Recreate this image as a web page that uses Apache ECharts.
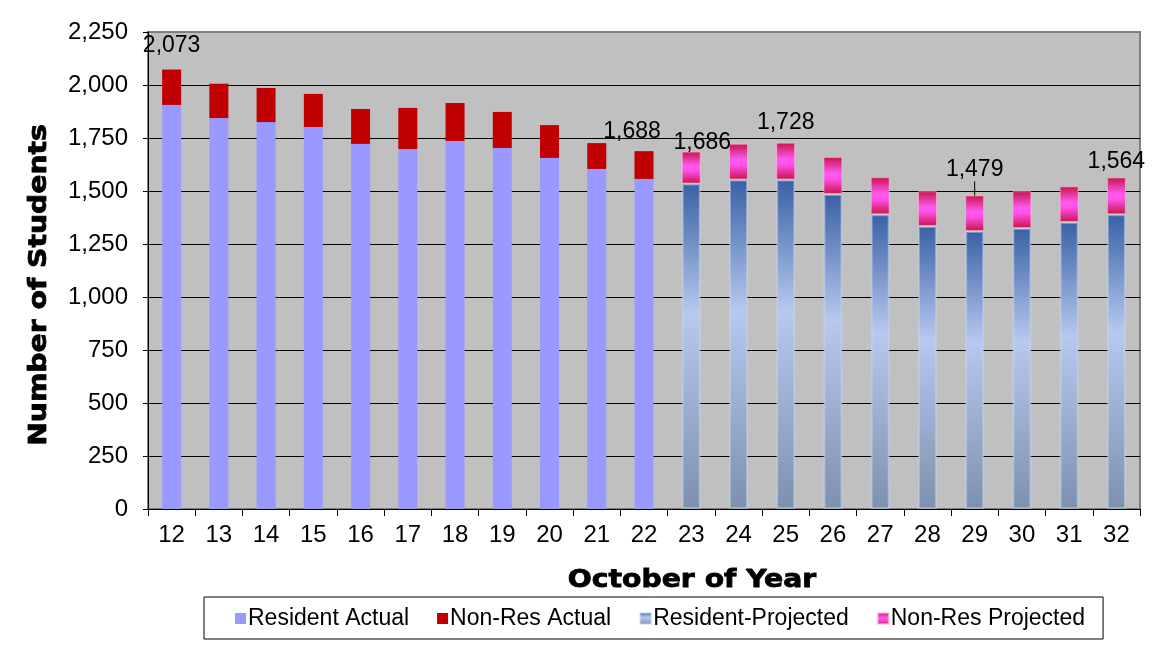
<!DOCTYPE html>
<html>
<head>
<meta charset="utf-8">
<script src="https://cdn.jsdelivr.net/npm/echarts@6/dist/echarts.min.js"></script>
<style>
  html, body { margin: 0; padding: 0; background: #fff; }
  #main { width: 1170px; height: 660px; }
</style>
</head>
<body>
<div id="main"></div>
<script>
// 数据
var years = ["12", "13", "14", "15", "16", "17", "18", "19", "20", "21", "22",
             "23", "24", "25", "26", "27", "28", "29", "30", "31", "32"];
var residentActual = [1906, 1844, 1825, 1802, 1722, 1698, 1736, 1703, 1656, 1604, 1557,
                      "-", "-", "-", "-", "-", "-", "-", "-", "-", "-"];
var nonResActual = [167, 162, 161, 156, 165, 194, 179, 170, 155, 122, 131,
                    "-", "-", "-", "-", "-", "-", "-", "-", "-", "-"];
var residentProjected = ["-", "-", "-", "-", "-", "-", "-", "-", "-", "-", "-",
                         1535, 1554, 1554, 1486, 1390, 1335, 1311, 1325, 1354, 1390];
var nonResProjected = ["-", "-", "-", "-", "-", "-", "-", "-", "-", "-", "-",
                       151, 169, 174, 175, 175, 164, 168, 174, 168, 174];
var yTicks = [0, 250, 500, 750, 1000, 1250, 1500, 1750, 2000, 2250];

// 显示合计标签的柱子及其偏移 [dx, dy]
var labelShift = { 0: [0, -7], 10: [-12, -3], 11: [11, 8], 13: [0, -4], 17: [0, -9], 20: [0, 1] };

function total(i) {
  var s = 0;
  [residentActual[i], nonResActual[i], residentProjected[i], nonResProjected[i]].forEach(function (v) {
    if (v !== "-") s += v;
  });
  return s;
}

function withLabels(values) {
  return values.map(function (v, i) {
    if (v === "-" || !labelShift[i]) return v;
    var item = {
      value: v,
      label: {
        show: true,
        position: "top",
        formatter: function () { return total(i).toLocaleString("en-US"); }
      }
    };
    if (i === 17) item.labelLine = { show: true, lineStyle: { color: "#000", width: 1 } };
    return item;
  });
}

function shiftLabel(params) {
  var s = labelShift[params.dataIndex];
  return s ? { dx: s[0], dy: s[1] } : {};
}

var labelStyle = { color: "#000", fontSize: 23, fontFamily: "Liberation Sans, Arial" };

var myChart = echarts.init(document.getElementById("main"));

var option = {
  animation: false,
  backgroundColor: "#fff",
  grid: {
    left: 148,
    right: 30,
    top: 32,
    bottom: 151,
    show: true,
    backgroundColor: "#c0c0c0",
    borderColor: "#808080",
    borderWidth: 2
  },
  legend: {
    left: 204,
    top: 597,
    padding: [10, 18, 9, 31],
    itemGap: 28,
    itemWidth: 11,
    itemHeight: 11,
    icon: "rect",
    backgroundColor: "#fff",
    borderColor: "#000",
    borderWidth: 1,
    borderRadius: 0,
    textStyle: { color: "#000", fontSize: 23, fontFamily: "Liberation Sans, Arial", padding: [0, 0, 0, -3] },
    data: ["Resident Actual", "Non-Res Actual", "Resident-Projected", "Non-Res Projected"]
  },
  xAxis: {
    type: "category",
    data: years,
    boundaryGap: true,
    axisLine: { lineStyle: { color: "#000", width: 1 } },
    axisTick: { show: true, length: 7, lineStyle: { color: "#000" } },
    axisLabel: { color: "#000", fontSize: 24, fontFamily: "Liberation Sans, Arial", margin: 14 },
    splitLine: { show: false }
  },
  yAxis: {
    type: "value",
    min: yTicks[0],
    max: yTicks[yTicks.length - 1],
    interval: 250,
    axisLine: { show: true, lineStyle: { color: "#000", width: 1 } },
    axisTick: { show: true, length: 5, lineStyle: { color: "#000" } },
    axisLabel: {
      color: "#000",
      fontSize: 24,
      fontFamily: "Liberation Sans, Arial",
      margin: 20,
      formatter: function (v) { return v.toLocaleString("en-US"); }
    },
    splitLine: { show: true, showMaxLine: false, lineStyle: { color: "#000", width: 1 } }
  },
  graphic: [
    {
      type: "text",
      x: 39,
      y: 285,
      rotation: Math.PI / 2,
      scaleX: 1.13,
      style: {
        text: "Number of Students",
        fill: "#000",
        stroke: "#000",
        lineWidth: 0.8,
        font: "bold 25px 'DejaVu Sans'",
        textAlign: "center",
        textVerticalAlign: "middle"
      }
    },
    {
      type: "text",
      x: 692,
      y: 580,
      scaleX: 1.13,
      style: {
        text: "October of Year",
        fill: "#000",
        stroke: "#000",
        lineWidth: 0.8,
        font: "bold 25px 'DejaVu Sans'",
        textAlign: "center",
        textVerticalAlign: "middle"
      }
    }
  ],
  series: [
    {
      name: "Resident Actual",
      type: "bar",
      stack: "total",
      barWidth: 19,
      data: residentActual,
      itemStyle: { color: "#9999ff" }
    },
    {
      name: "Non-Res Actual",
      type: "bar",
      stack: "total",
      barWidth: 19,
      data: withLabels(nonResActual),
      label: labelStyle,
      labelLayout: shiftLabel,
      itemStyle: { color: "#c00000" }
    },
    {
      name: "Resident-Projected",
      type: "bar",
      stack: "total",
      barWidth: 19,
      data: residentProjected,
      itemStyle: {
        color: new echarts.graphic.LinearGradient(0, 0, 0, 1, [
          { offset: 0, color: "#3a60a4" },
          { offset: 0.4, color: "#b6c9ee" },
          { offset: 1, color: "#7c91ae" }
        ]),
        borderColor: "rgba(200,215,245,0.45)",
        borderWidth: 2
      }
    },
    {
      name: "Non-Res Projected",
      type: "bar",
      stack: "total",
      barWidth: 19,
      data: withLabels(nonResProjected),
      label: labelStyle,
      labelLayout: shiftLabel,
      itemStyle: {
        color: new echarts.graphic.LinearGradient(0, 0, 0, 1, [
          { offset: 0, color: "#c8144a" },
          { offset: 0.45, color: "#ff5af0" },
          { offset: 0.6, color: "#ff50e8" },
          { offset: 1, color: "#c8144a" }
        ]),
        borderColor: "rgba(255,190,220,0.6)",
        borderWidth: 1
      }
    }
  ]
};

myChart.setOption(option);
</script>
</body>
</html>
